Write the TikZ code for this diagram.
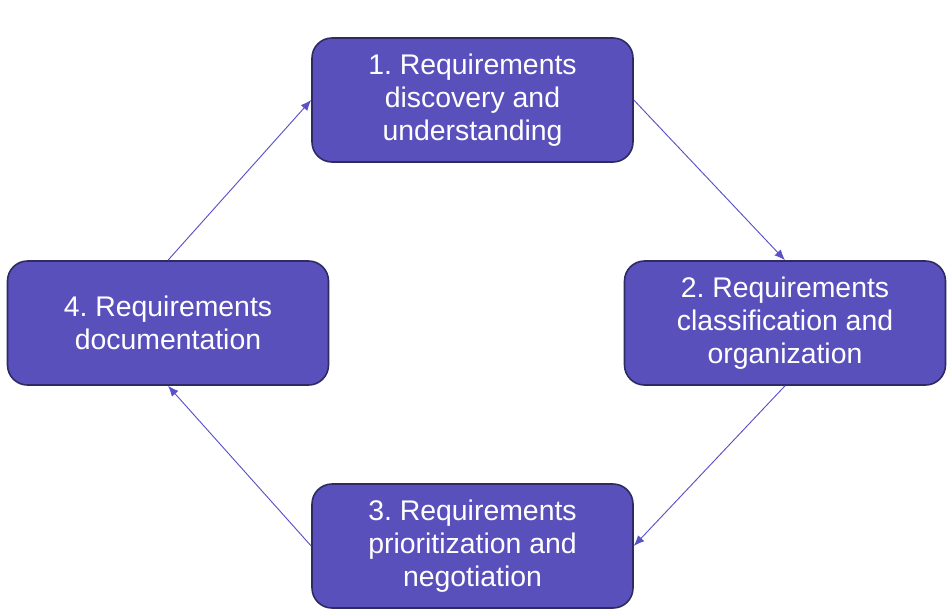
\documentclass[tikz,border=0pt]{standalone}
\usepackage{fontspec}
\setmainfont{Liberation Sans}
\usetikzlibrary{arrows.meta}
\definecolor{boxfill}{HTML}{5A50BC}
\definecolor{boxline}{HTML}{2E2A62}
\definecolor{arrowcol}{HTML}{5A50C8}
\frenchspacing
\tikzset{
    stagebox/.style={draw=boxline, line width=1.2pt, fill=boxfill, rounded corners=15pt,
        minimum width=240.75pt, minimum height=93pt, align=center, text=white,
        font=\fontsize{21.3}{24.75}\selectfont, inner sep=0pt},
    flow/.style={draw=arrowcol, line width=0.7pt, -{Latex[length=8pt,width=6.5pt]}}
}
\begin{document}
\begin{tikzpicture}[x=0.75pt,y=-0.75pt]
            \useasboundingbox (0,0) rectangle (952,611);
            %stages
            \node[stagebox] (discovery) at (472.5,100) {1. Requirements\\discovery and\\understanding};

            \node[stagebox] (classification) at (785,323) {2. Requirements\\classification and\\organization};

            \node[stagebox] (prioritization) at (472.5,546) {3. Requirements\\prioritization and\\negotiation};

            \node[stagebox] (documentation) at (168,323) {4. Requirements\\documentation};

            %cycle
            \draw[flow] (discovery.east) -- (classification.north);

            \draw[flow] (classification.south) -- (prioritization.east);

            \draw[flow] (prioritization.west) -- (documentation.south);

            \draw[flow] (documentation.north) -- (discovery.west);
        \end{tikzpicture}
\end{document}
